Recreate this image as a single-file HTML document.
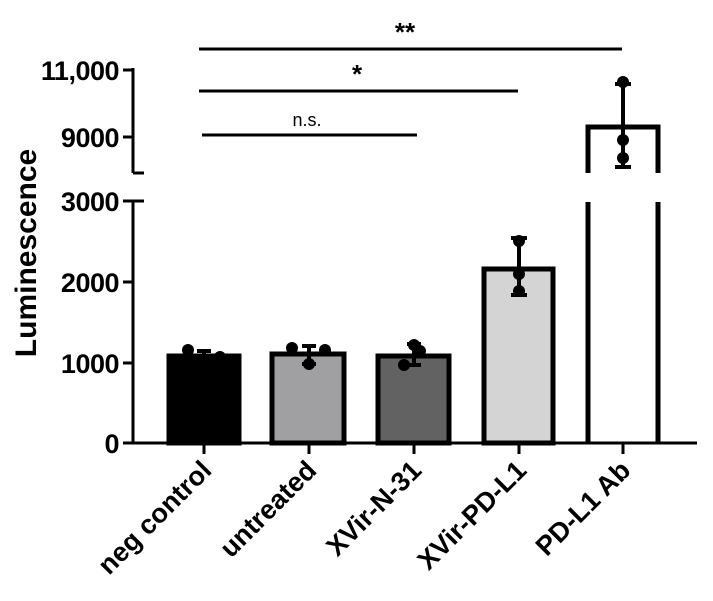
<!DOCTYPE html>
<html><head><style>body{margin:0;background:#fff}svg{display:block}</style></head><body>
<svg width="713" height="601" viewBox="0 0 713 601" xmlns="http://www.w3.org/2000/svg" font-family="Liberation Sans, sans-serif" font-weight="bold">
<g stroke="#000" stroke-width="3" fill="none">
<line x1="133" y1="68" x2="133" y2="173"/>
<line x1="133" y1="200" x2="133" y2="444"/>
<line x1="123" y1="70" x2="133" y2="70"/>
<line x1="123" y1="137" x2="133" y2="137"/>
<line x1="133" y1="173" x2="144" y2="173"/>
<line x1="123" y1="201" x2="144" y2="201"/>
<line x1="123" y1="282" x2="133" y2="282"/>
<line x1="123" y1="363" x2="133" y2="363"/>
<line x1="123" y1="443" x2="697" y2="443"/>
<line x1="204" y1="443" x2="204" y2="454"/>
<line x1="309" y1="443" x2="309" y2="454"/>
<line x1="414" y1="443" x2="414" y2="454"/>
<line x1="519" y1="443" x2="519" y2="454"/>
<line x1="623" y1="443" x2="623" y2="454"/>
<line x1="199" y1="49" x2="622" y2="49"/>
<line x1="199" y1="91" x2="518" y2="91"/>
<line x1="202" y1="135" x2="417" y2="135"/>
</g>
<g stroke="#000" stroke-width="5">
<rect x="169" y="356" width="70" height="87" fill="#000"/>
<rect x="272" y="354" width="72" height="89" fill="#a0a0a2"/>
<rect x="378" y="356" width="71" height="87" fill="#626262"/>
<rect x="484" y="269" width="69" height="174" fill="#d4d4d4"/>
<polyline points="588,173 588,127 658,127 658,173" fill="none"/>
<line x1="588" y1="202" x2="588" y2="443"/>
<line x1="658" y1="202" x2="658" y2="443"/>
</g>
<g stroke="#000" stroke-width="4">
<line x1="204" y1="351" x2="204" y2="356"/><line x1="197" y1="351" x2="211" y2="351"/>
<line x1="309" y1="346" x2="309" y2="364"/><line x1="302" y1="346" x2="316" y2="346"/><line x1="302" y1="364" x2="316" y2="364"/>
<line x1="414" y1="344" x2="414" y2="365"/><line x1="407" y1="344" x2="421" y2="344"/><line x1="407" y1="365" x2="421" y2="365"/>
<line x1="519" y1="238" x2="519" y2="295"/><line x1="511" y1="238" x2="527" y2="238"/><line x1="511" y1="295" x2="527" y2="295"/>
<line x1="623" y1="84" x2="623" y2="167"/><line x1="615" y1="84" x2="631" y2="84"/><line x1="615" y1="167" x2="631" y2="167"/>
</g>
<g fill="#000">
<circle cx="188" cy="350" r="6"/><circle cx="220" cy="357" r="6"/>
<circle cx="292" cy="348" r="6"/><circle cx="309" cy="364" r="6"/><circle cx="325" cy="350" r="6"/>
<circle cx="414" cy="345" r="6"/><circle cx="420" cy="351" r="6"/><circle cx="404" cy="365" r="6"/>
<circle cx="519" cy="241" r="6"/><circle cx="519" cy="274" r="6"/><circle cx="519" cy="291" r="6"/>
<circle cx="623" cy="82" r="6"/><circle cx="623" cy="140" r="6"/><circle cx="623" cy="158" r="6"/>
</g>
<g font-size="27" text-anchor="end" fill="#000" letter-spacing="-0.5">
<text x="119" y="80">11,000</text>
<text x="119" y="147">9000</text>
<text x="119" y="211">3000</text>
<text x="119" y="292">2000</text>
<text x="119" y="373">1000</text>
<text x="119" y="453">0</text>
</g>
<text transform="translate(36,253) rotate(-90)" font-size="30" text-anchor="middle">Luminescence</text>
<text x="405" y="41" font-size="26" text-anchor="middle">**</text>
<text x="357" y="83" font-size="26" text-anchor="middle">*</text>
<text x="307" y="126" font-size="18" font-weight="normal" text-anchor="middle">n.s.</text>
<g font-size="27" text-anchor="end">
<text transform="translate(213,472) rotate(-45)">neg control</text>
<text transform="translate(318,472) rotate(-45)">untreated</text>
<text transform="translate(423,472) rotate(-45)">XVir-N-31</text>
<text transform="translate(528,472) rotate(-45)">XVir-PD-L1</text>
<text transform="translate(632,472) rotate(-45)">PD-L1 Ab</text>
</g>
</svg>
</body></html>
